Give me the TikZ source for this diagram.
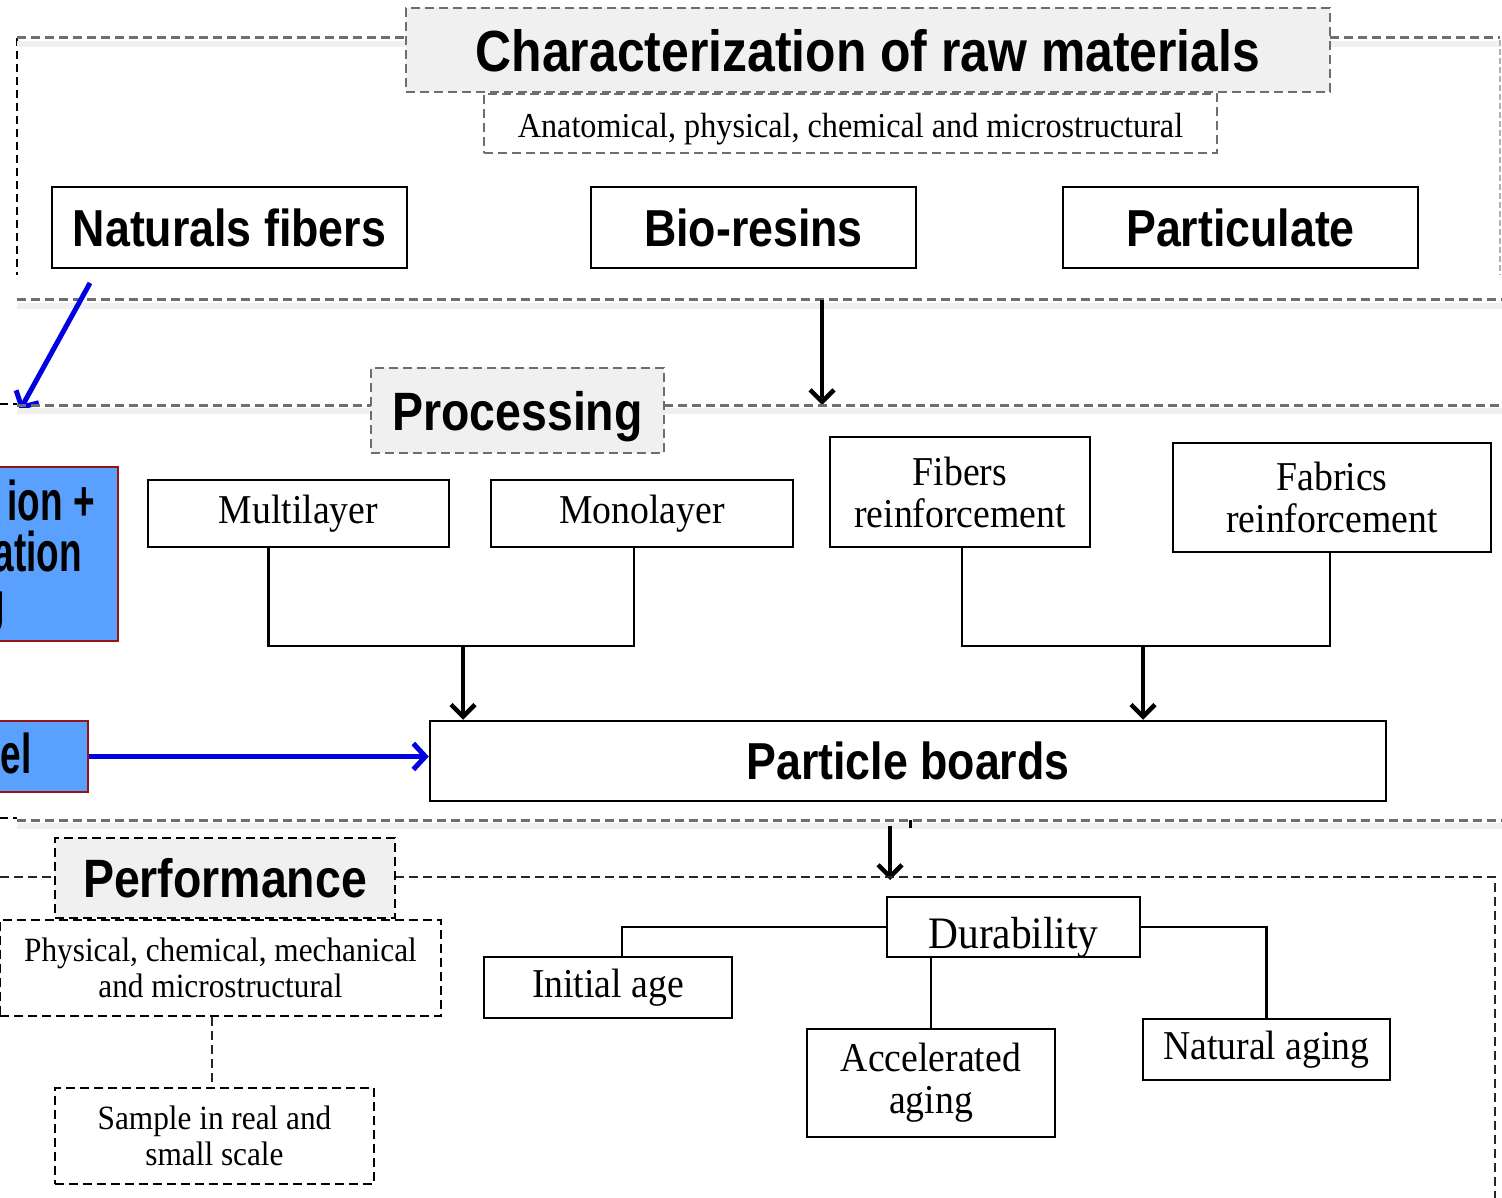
\documentclass[tikz,border=0pt]{standalone}
\usepackage{fontspec}
\usetikzlibrary{arrows.meta}
\newfontfamily\hdfont[FakeStretch=0.86]{Liberation Sans}
\newfontfamily\blfont[FakeStretch=0.66]{Liberation Sans}
\newfontfamily\txfont[FakeStretch=0.92]{Liberation Serif}
\definecolor{boxblue}{RGB}{90,160,255}
\definecolor{boxred}{RGB}{150,20,20}
\definecolor{arrblue}{RGB}{0,0,225}
\definecolor{dashgray}{RGB}{110,110,110}
\tikzset{
  box/.style={draw, line width=2.5pt, rectangle, inner sep=0pt, align=center},
  hdbox/.style={box, font=\hdfont\bfseries\fontsize{52}{58}\selectfont},
  txbox/.style={box, font=\txfont\fontsize{41}{42}\selectfont},
  ttlbox/.style={draw=dashgray, fill=gray!12, line width=2.5pt, dash pattern=on 9pt off 5pt, inner sep=0pt, text depth=0pt, font=\hdfont\bfseries\fontsize{54}{60}\selectfont},
  subbox/.style={draw=dashgray, line width=2pt, dash pattern=on 9pt off 5pt, inner sep=0pt, align=center, font=\txfont\fontsize{35}{36}\selectfont},
  perfbox/.style={draw=black, line width=2pt, dash pattern=on 9pt off 5pt, inner sep=0pt, align=center, font=\txfont\fontsize{34}{36}\selectfont},
  bluebox/.style={draw=boxred, fill=boxblue, line width=2pt, rectangle, inner sep=0pt},
  bltext/.style={font=\blfont\bfseries\fontsize{56}{51}\selectfont, inner sep=0pt, anchor=base east},
  grpline/.style={draw=dashgray, line width=3pt, dash pattern=on 9pt off 5pt, preaction={draw=gray!12, line width=6pt, transform canvas={yshift=-6pt}}},
  perfline/.style={draw=black!85, line width=2pt, dash pattern=on 9pt off 5pt},
  thinline/.style={draw=black, line width=1.5pt, dash pattern=on 8pt off 5pt},
  dotline/.style={draw=gray!60, line width=1.5pt, dash pattern=on 6pt off 3pt},
  link/.style={draw, line width=2.5pt},
  barrow/.style={line width=4.5pt, -{Straight Barb[length=12pt,width=24pt]}},
  blarrow/.style={draw=arrblue, line width=5pt, -{Straight Barb[length=12pt,width=26pt]}}
}

\begin{document}
\begin{tikzpicture}[x=1pt,y=-1pt]

	\useasboundingbox (0,0) rectangle (1502,1198);

	% raw materials
	\draw[thinline] (17,38) -- (17,275);
	\draw[grpline] (17,38) -- (406,38);
	\draw[grpline] (1330,38) -- (1500,38);
	\draw[dotline] (1500,40) -- (1500,275);
	\draw[grpline] (17,300) -- (1502,300);
	\node[ttlbox, minimum width=924, minimum height=84, font=\hdfont\bfseries\fontsize{58}{60}\selectfont] (charac) at (868,50) {Characterization of raw materials};
	\node[subbox, minimum width=733, minimum height=59, text height=29pt, text depth=0pt] (anat) at (850.5,123.5) {Anatomical, physical, chemical and microstructural};
	\node[hdbox, minimum width=355, minimum height=81] (natfib) at (229.5,227.5) {Naturals fibers};
	\node[hdbox, minimum width=325, minimum height=81] (biores) at (753.5,227.5) {Bio-resins};
	\node[hdbox, minimum width=355, minimum height=81] (partic) at (1240.5,227.5) {Particulate};

	\coordinate (bioa) at (822,300);
	\coordinate (biob) at (822,405);
	\draw[barrow] (bioa) -- (biob);
	\coordinate (nata) at (90,283);
	\coordinate (natb) at (20,410);
	\draw[blarrow] (nata) -- (natb);

	% processing
	\draw[thinline] (0,404) -- (17,404);
	\draw[grpline] (17,405) -- (371,405);
	\draw[grpline] (664,405) -- (1502,405);
	\node[ttlbox, minimum width=293, minimum height=85] (proc) at (517.5,410.5) {Processing};
	\node[txbox, minimum width=301, minimum height=67] (multi) at (298.5,513.5) {Multilayer};
	\node[txbox, minimum width=302, minimum height=67] (mono) at (642,513.5) {Monolayer};
	\node[txbox, minimum width=260, minimum height=110] (fibre) at (960,492) {Fibers\\reinforcement};
	\node[txbox, minimum width=318, minimum height=109] (fabric) at (1332,497.5) {Fabrics\\reinforcement};

	\node[bluebox, minimum width=138, minimum height=174] (blue1) at (49,554) {};
	\node[bltext] (blue1a) at (95,520) {ion +};
	\node[bltext] (blue1b) at (82,571) {ation};
	\node[bltext] (blue1c) at (5,621) {g};
	\node[bluebox, minimum width=108, minimum height=71] (blue2) at (34,756.5) {};
	\node[bltext] (blue2a) at (32,773) {el};

	\node[hdbox, minimum width=956, minimum height=80] (pboard) at (908,761) {Particle boards};

	\coordinate (ja) at (463,646);
	\coordinate (jb) at (1143,646);
	\draw[link] ([xshift=-30pt]multi.south) |- (ja) -| ([xshift=-8pt]mono.south);
	\draw[link] ([xshift=2pt]fibre.south) |- (jb) -| ([xshift=-2pt]fabric.south);
	\draw[barrow] (ja) -- (ja |- pboard.north);
	\draw[barrow] (jb) -- (jb |- pboard.north);
	\draw[blarrow] (blue2.east) -- (blue2.east -| pboard.west);

	% performance
	\draw[thinline] (0,818) -- (17,818);
	\draw[grpline] (17,820) -- (1502,820);
	\draw[line width=3pt] (910,820) -- (910,828);
	\coordinate (perfa) at (890,826);
	\coordinate (perfb) at (890,880);
	\draw[barrow] (perfa) -- (perfb);
	\draw[perfline] (0,877) -- (55,877);
	\draw[perfline] (395,877) -- (1495,877) -- (1495,1198);
	\node[ttlbox, draw=black, minimum width=340, minimum height=80] (perf) at (225,878) {Performance};
	\node[perfbox, minimum width=441, minimum height=96] (phys) at (220.5,968) {Physical, chemical, mechanical\\and microstructural};
	\node[perfbox, minimum width=319, minimum height=96] (sample) at (214.5,1136) {Sample in real and\\small scale};
	\draw[perfline] ([xshift=-3pt]phys.south -| sample.north) -- ([xshift=-3pt]sample.north);

	\node[txbox, minimum width=253, minimum height=60, text height=42pt, text depth=0pt, font=\txfont\fontsize{45}{46}\selectfont] (dura) at (1013.5,927) {Durability};
	\node[txbox, minimum width=248, minimum height=61] (initial) at (608,987.5) {Initial age};
	\node[txbox, minimum width=248, minimum height=108] (accel) at (931,1083) {Accelerated\\aging};
	\node[txbox, minimum width=247, minimum height=61] (natural) at (1266.5,1049.5) {Natural aging};
	\draw[link] (dura.west) -| ([xshift=14pt]initial.north);
	\draw[link] (dura.east) -| (natural.north);
	\draw[link] (accel.north) -- (accel.north |- dura.south);

\end{tikzpicture}
\end{document}
